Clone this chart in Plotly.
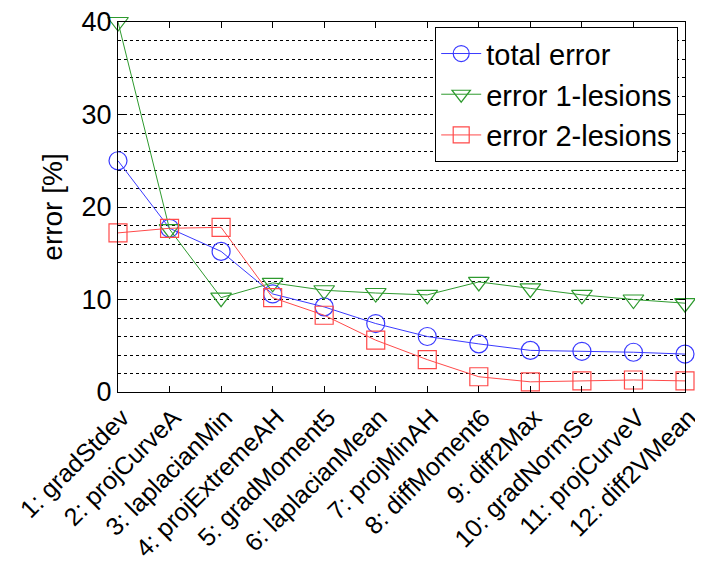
import plotly.graph_objects as go

categories = ["1: gradStdev", "2: projCurveA", "3: laplacianMin", "4: projExtremeAH",
              "5: gradMoment5", "6: laplacianMean", "7: projMinAH", "8: diffMoment6",
              "9: diff2Max", "10: gradNormSe", "11: projCurveV", "12: diff2VMean"]
x_pos = list(range(1, 13))
total_error = [25.0, 17.7, 15.2, 10.6, 9.2, 7.4, 6.0, 5.2, 4.5, 4.4, 4.3, 4.1]
error_1_lesions = [40.0, 17.6, 10.2, 11.8, 11.0, 10.7, 10.5, 11.9, 11.2, 10.5, 10.0, 9.6]
error_2_lesions = [17.2, 17.7, 17.8, 10.2, 8.3, 5.6, 3.5, 1.65, 1.1, 1.2, 1.3, 1.2]

series = [
    ("total error", total_error, "#3a3aff", "circle-open"),
    ("error 1-lesions", error_1_lesions, "#2e9a2e", "triangle-down-open"),
    ("error 2-lesions", error_2_lesions, "#ff4a4a", "square-open"),
]

fig = go.Figure()
for name, vals, color, sym in series:
    fig.add_trace(go.Scatter(
        x=x_pos, y=vals, name=name, mode="lines+markers",
        line=dict(color=color, width=1),
        marker=dict(symbol=sym, size=18, color=color, line=dict(width=1.2, color=color)),
        cliponaxis=False,
    ))

font_family = "Liberation Sans, Arial, sans-serif"
# page body has an 8px default margin, so the figure is sized to fit within the window
fig.update_layout(
    width=695, height=562,
    margin=dict(l=110, r=18, t=14, b=178),
    paper_bgcolor="white", plot_bgcolor="white",
    font=dict(family=font_family, size=27, color="black"),
    showlegend=True,
    legend=dict(
        x=0.988, y=0.986, xanchor="right", yanchor="top",
        bgcolor="white", bordercolor="black", borderwidth=1,
        font=dict(size=29, family=font_family, color="black"),
        itemwidth=40, tracegroupgap=0,
    ),
)
fig.update_xaxes(
    range=[1, 12], tickmode="array", tickvals=x_pos, ticktext=categories,
    tickangle=-45, ticks="inside", ticklen=6, tickcolor="black",
    showline=True, linecolor="black", linewidth=1, mirror="ticks",
    showgrid=False, zeroline=False, automargin=False, ticklabeloverflow="allow",
    ticklabelshift=4,
    tickfont=dict(size=25, family=font_family),
)
fig.update_yaxes(
    range=[0, 40], tickmode="array", tickvals=[0, 10, 20, 30, 40],
    ticks="inside", ticklen=6, tickcolor="black",
    showline=True, linecolor="black", linewidth=1, mirror="ticks",
    showgrid=True, gridcolor="black", gridwidth=1, griddash="dot",
    minor=dict(dtick=2, tick0=0, showgrid=True, gridcolor="black", gridwidth=1, griddash="dot"),
    zeroline=False, automargin=False, ticklabeloverflow="allow",
    title=dict(text="error [%]", font=dict(size=28, family=font_family), standoff=10),
    tickfont=dict(size=27, family=font_family),
)
fig.write_html("out.html")
